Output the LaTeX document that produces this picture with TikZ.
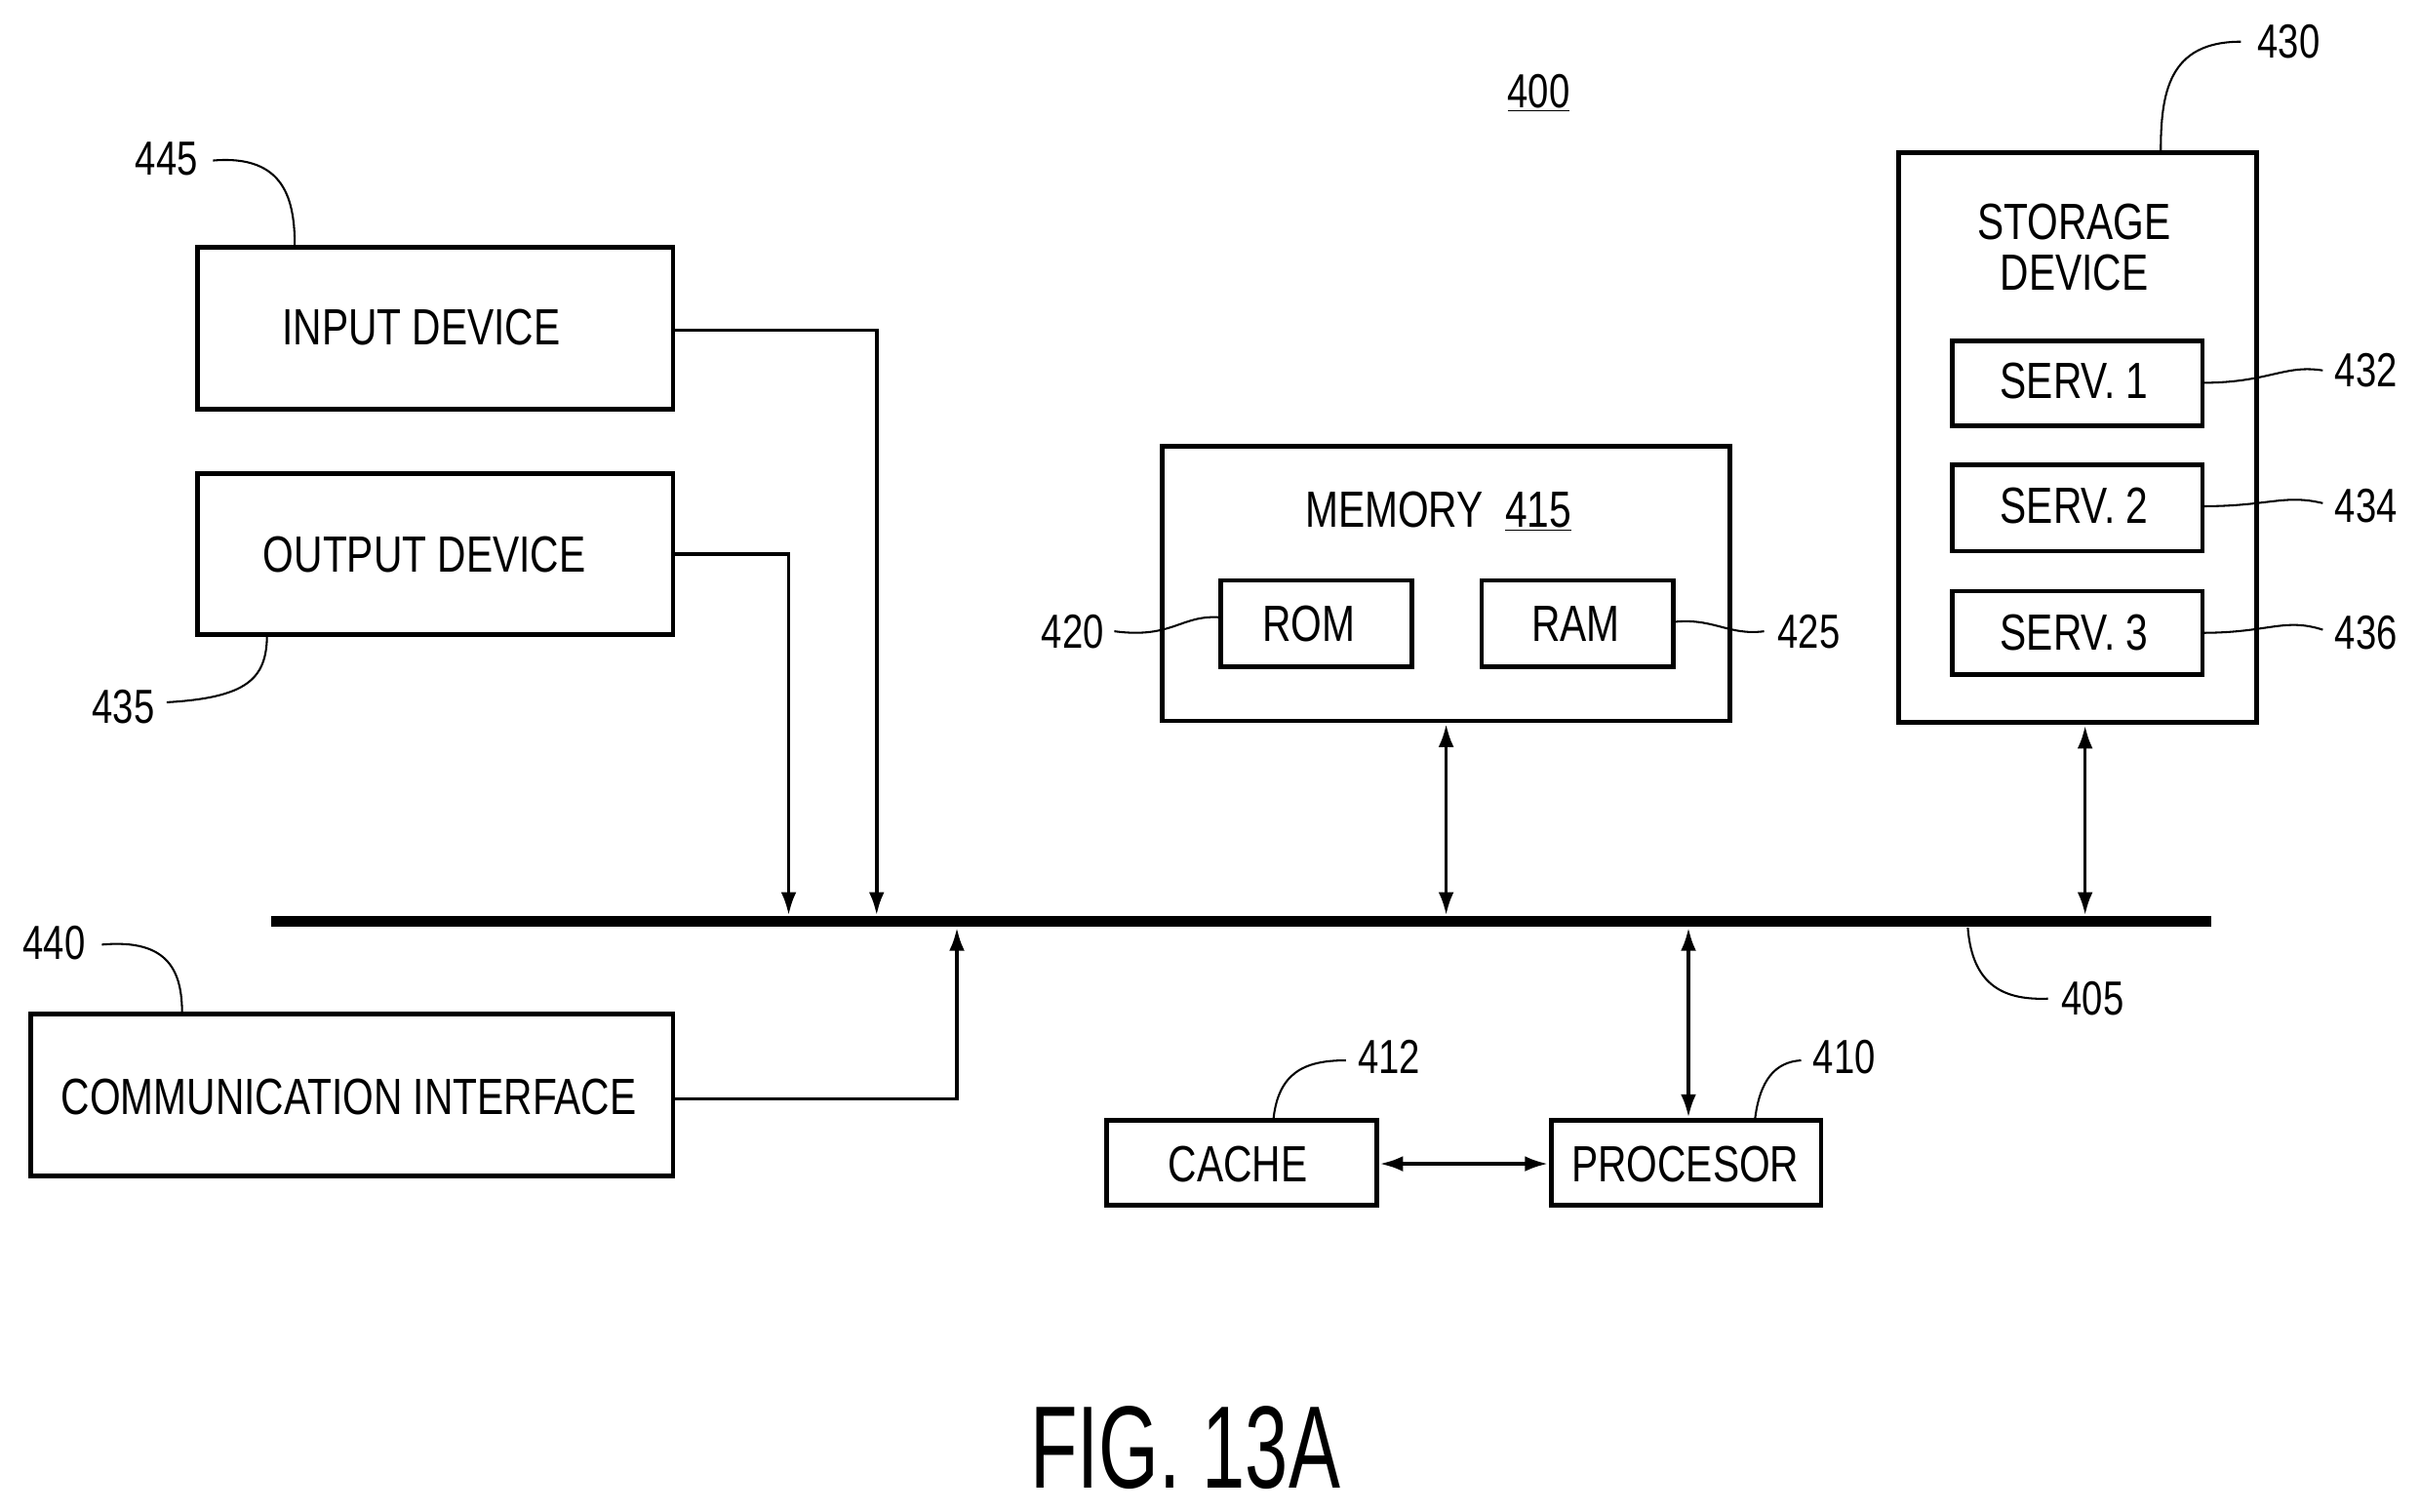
\documentclass[tikz,border=0pt]{standalone}
\usetikzlibrary{arrows.meta}
\usepackage{fontspec}
\setmainfont{Liberation Sans}[FakeStretch=0.78]
\newfontfamily\figfont{Liberation Sans}[FakeStretch=0.66]
\begin{document}
\begin{tikzpicture}[x=1pt,y=-1pt,
 box/.style={draw,line width=3pt,inner sep=0pt},
 txt/.style={font=\fontsize{33}{38}\selectfont,align=center},
 num/.style={font=\fontsize{31}{34}\selectfont},
 lead/.style={line width=1.3pt},
 con/.style={line width=2.3pt},
 arr/.style={con,-{Latex[length=15pt,width=10pt]}},
 darr/.style={con,{Latex[length=15pt,width=10pt]}-{Latex[length=15pt,width=10pt]}}]
\useasboundingbox (0,0) rectangle (1568,979);
% boxes
\draw[box] (128,160) rectangle (436,265); \node[txt] (inp) at (273,212) {INPUT DEVICE};
\draw[box] (128,307) rectangle (436,411); \node[txt] (outp) at (275,359) {OUTPUT DEVICE};
\draw[box] (20,657) rectangle (436,762); \node[txt] (comm) at (226,711) {COMMUNICATION INTERFACE};
\draw[box] (753,289) rectangle (1121,467); \node[txt] (mem) at (932,331) {MEMORY\ \ \underline{415}};
\draw[box] (791,376) rectangle (915,432); \node[txt] (rom) at (848,404) {ROM};
\draw[box] (960,376) rectangle (1084,432); \node[txt] (ram) at (1021,404) {RAM};
\draw[box] (1230,99) rectangle (1462,468); \node[txt,font=\fontsize{33}{33}\selectfont] (st) at (1344,160) {STORAGE\\DEVICE};
\draw[box] (1265,221) rectangle (1427,276); \node[txt] (s1) at (1344,247) {SERV. 1};
\draw[box] (1265,301) rectangle (1427,357); \node[txt] (s2) at (1344,328) {SERV. 2};
\draw[box] (1265,383) rectangle (1427,437); \node[txt] (s3) at (1344,410) {SERV. 3};
\draw[box] (717,726) rectangle (892,781); \node[txt] (cache) at (802,754) {CACHE};
\draw[box] (1005,726) rectangle (1180,781); \node[txt] (proc) at (1092,754) {PROCESOR};
% bus
\draw[line width=7pt] (176,597) -- (1433,597);
% connectors
\draw[arr] (436,214) -- (568,214) -- (568,593);
\draw[arr] (436,359) -- (511,359) -- (511,593);
\draw[arr] (436,712) -- (620,712) -- (620,601);
\draw[darr] (937,469) -- (937,593);
\draw[darr] (1351,470) -- (1351,593);
\draw[darr] (1094,601) -- (1094,724);
\draw[darr] (894,754) -- (1003,754);
% labels
\node[num] at (997,60) {\underline{400}};
\node[num] (l445) at (108,103) {445};
\draw[lead] (138,104) .. controls (185,100) and (191,130) .. (191,160);
\node[num] (l435) at (80,458) {435};
\draw[lead] (108,455) .. controls (160,452) and (173,440) .. (173,411);
\node[num] (l440) at (35,611) {440};
\draw[lead] (66,612) .. controls (110,608) and (118,630) .. (118,657);
\node[num] (l430) at (1483,27) {430};
\draw[lead] (1452,27) .. controls (1405,27) and (1400,60) .. (1400,99);
\node[num] (l432) at (1533,240) {432};
\draw[lead] (1427,248) .. controls (1470,248) and (1480,236) .. (1505,240);
\node[num] (l434) at (1533,328) {434};
\draw[lead] (1427,328) .. controls (1470,328) and (1480,320) .. (1505,326);
\node[num] (l436) at (1533,410) {436};
\draw[lead] (1427,410) .. controls (1470,410) and (1480,400) .. (1505,408);
\node[num] (l420) at (695,409) {420};
\draw[lead] (722,409) .. controls (760,414) and (765,398) .. (791,400);
\node[num] (l425) at (1172,409) {425};
\draw[lead] (1084,403) .. controls (1110,400) and (1120,412) .. (1143,409);
\node[num] (l405) at (1356,647) {405};
\draw[lead] (1275,601) .. controls (1278,640) and (1300,648) .. (1327,647);
\node[num] (l412) at (900,685) {412};
\draw[lead] (825,726) .. controls (828,695) and (845,687) .. (872,687);
\node[num] (l410) at (1195,685) {410};
\draw[lead] (1137,726) .. controls (1140,700) and (1150,688) .. (1167,687);
\node[font=\figfont\fontsize{76}{80}\selectfont] (fig) at (768,938) {FIG. 13A};
\end{tikzpicture}
\end{document}
